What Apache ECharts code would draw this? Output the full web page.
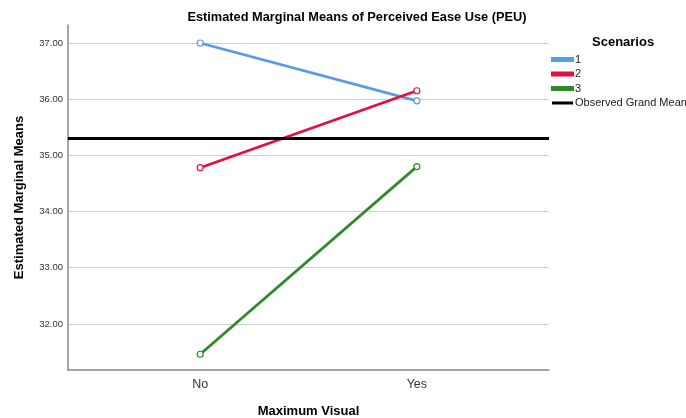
<!DOCTYPE html>
<html>
<head>
<meta charset="utf-8">
<script src="https://cdn.jsdelivr.net/npm/echarts@6/dist/echarts.min.js"></script>
<style>
  html, body { margin: 0; padding: 0; background: #fff; }
  #chart { width: 686px; height: 418px; }
</style>
</head>
<body>
<div id="chart"></div>
<script>
// Levels of the "Maximum Visual" factor (x axis)
const levels = ['No', 'Yes'];

// Estimated marginal means of PEU per scenario, one value per level
const scenarioNames = ['1', '2', '3'];
const scenario1 = [37.00, 35.97];
const scenario2 = [34.78, 36.15];
const scenario3 = [31.46, 34.80];

// Observed grand mean
const grandMean = 35.31;

// Y tick values
const yTicks = [32, 33, 34, 35, 36, 37];

const colors = ['#5a9ae8', '#e3103f', '#2f8a2c'];
const font = 'Liberation Sans, Arial, sans-serif';

const toPoints = vals => vals.map((v, i) => [i, v]);

const lineSeries = [scenario1, scenario2, scenario3].map((vals, k) => ({
  name: scenarioNames[k],
  type: 'line',
  data: toPoints(vals),
  symbol: 'circle',
  symbolSize: 6,
  showSymbol: true,
  lineStyle: { color: colors[k], width: 2.8 },
  itemStyle: { color: '#ffffff', borderColor: colors[k], borderWidth: 1.2 },
  emphasis: { disabled: true },
  z: 3
}));

const meanSeries = {
  name: 'Observed Grand Mean',
  type: 'line',
  data: [],
  lineStyle: { color: '#000000', width: 3 },
  itemStyle: { color: '#000000' },
  markLine: {
    silent: true,
    symbol: 'none',
    label: { show: false },
    lineStyle: { color: '#000000', width: 3, type: 'solid' },
    data: [{ yAxis: grandMean }]
  },
  z: 2
};

const chart = echarts.init(document.getElementById('chart'), null, { renderer: 'canvas' });
chart.setOption({
  animation: false,
  textStyle: { fontFamily: font },
  title: [
    {
      text: 'Estimated Marginal Means of Perceived Ease Use (PEU)',
      left: 352, top: 6, textAlign: 'center',
      textStyle: { fontFamily: font, fontSize: 12.8, fontWeight: 'bold', color: '#000' }
    },
    {
      text: 'Scenarios',
      left: 587, top: 31,
      textStyle: { fontFamily: font, fontSize: 13, fontWeight: 'bold', color: '#000' }
    }
  ],
  legend: {
    orient: 'vertical',
    left: 551, top: 54,
    padding: 0,
    itemWidth: 21, itemHeight: 3,
    itemGap: 3.5,
    icon: 'rect',
    data: scenarioNames.map((n, k) => ({ name: n, itemStyle: { color: colors[k] } }))
      .concat([{ name: 'Observed Grand Mean', itemStyle: { color: '#000' } }]),
    textStyle: { fontFamily: font, fontSize: 11, color: '#222', padding: [0, 0, 0, -3], overflow: 'none' },
    selectedMode: false
  },
  grid: { left: 68, right: 137, top: 25, bottom: 48, outerBoundsMode: 'none' },
  xAxis: {
    type: 'value',
    min: -0.61, max: 1.61,
    name: 'Maximum Visual',
    nameLocation: 'middle',
    nameGap: 35,
    nameTextStyle: { fontFamily: font, fontSize: 13, fontWeight: 'bold', color: '#000' },
    axisLine: { show: true, onZero: false, lineStyle: { color: '#888', width: 1.5 } },
    axisTick: { show: false },
    splitLine: { show: false },
    axisLabel: {
      customValues: [0, 1],
      formatter: v => levels[Math.round(v)],
      fontFamily: font, fontSize: 12.5, color: '#333', margin: 8
    }
  },
  yAxis: {
    type: 'value',
    min: 31.18, max: 37.32,
    name: 'Estimated Marginal Means',
    nameLocation: 'middle',
    nameGap: 42,
    nameTextStyle: { fontFamily: font, fontSize: 13, fontWeight: 'bold', color: '#000' },
    axisLine: { show: true, onZero: false, lineStyle: { color: '#888', width: 1.5 } },
    axisTick: { show: false },
    splitLine: { show: true, showMinLine: false, showMaxLine: false, lineStyle: { color: '#cfcfcf', width: 1 } },
    axisLabel: {
      customValues: yTicks,
      formatter: v => v.toFixed(2),
      fontFamily: font, fontSize: 9.5, color: '#333', margin: 5
    }
  },
  series: lineSeries.concat([meanSeries])
});
</script>
</body>
</html>
